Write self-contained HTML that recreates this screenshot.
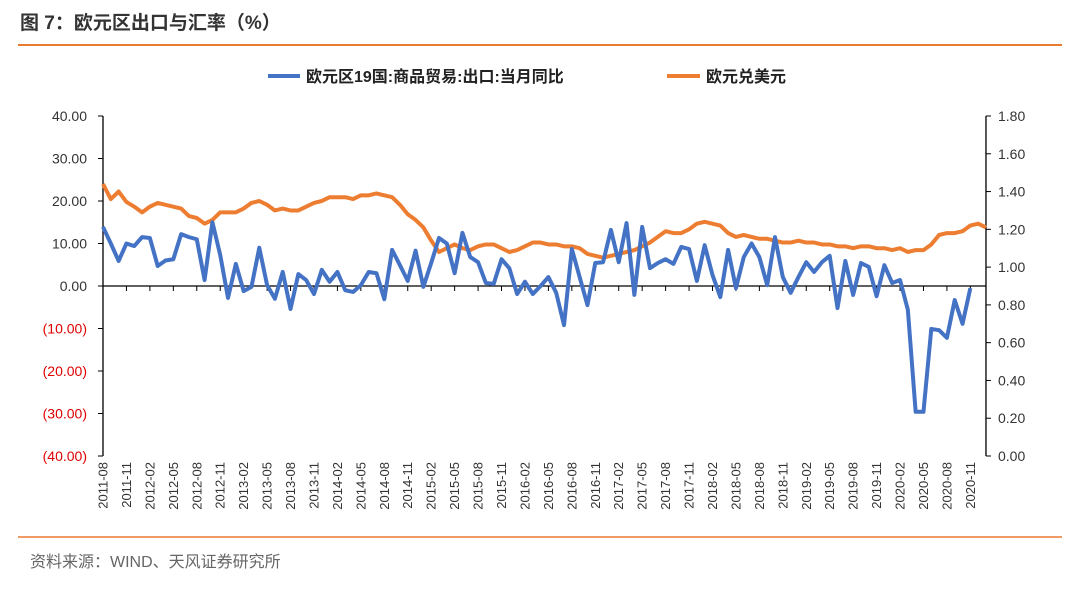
<!DOCTYPE html>
<html><head><meta charset="utf-8">
<style>
body{margin:0;width:1080px;height:587px;background:#fff;overflow:hidden;font-family:"Liberation Sans","Noto Sans CJK SC",sans-serif;}
svg text{font-family:"Liberation Sans","Noto Sans CJK SC",sans-serif;}
</style></head>
<body>
<svg id="chart" width="1080" height="587">
<text x="20" y="29" font-size="19" font-weight="bold" fill="#333">图 7：欧元区出口与汇率（%）</text>
<line x1="18" y1="45" x2="1062" y2="45" stroke="#e97c30" stroke-width="2"/>
<line x1="18" y1="537" x2="1062" y2="537" stroke="#e97c30" stroke-width="1.5"/>
<text x="30" y="567" font-size="16" fill="#666">资料来源：WIND、天风证券研究所</text>
<g>
<line x1="268" y1="76" x2="300" y2="76" stroke="#4472c4" stroke-width="4"/>
<text x="306" y="82" font-size="16" font-weight="bold" fill="#222">欧元区19国:商品贸易:出口:当月同比</text>
<line x1="667" y1="76" x2="700" y2="76" stroke="#ed7d31" stroke-width="4"/>
<text x="706" y="82" font-size="16" font-weight="bold" fill="#222">欧元兑美元</text>
</g>
<g id="axes"></g>
<g id="series"></g>
</svg>
<script>
const monthLabels=["2011-08","2011-11","2012-02","2012-05","2012-08","2012-11","2013-02","2013-05","2013-08","2013-11","2014-02","2014-05","2014-08","2014-11","2015-02","2015-05","2015-08","2015-11","2016-02","2016-05","2016-08","2016-11","2017-02","2017-05","2017-08","2017-11","2018-02","2018-05","2018-08","2018-11","2019-02","2019-05","2019-08","2019-11","2020-02","2020-05","2020-08","2020-11"];
const leftTicks=[40,30,20,10,0,-10,-20,-30,-40];
const rightTicks=[1.8,1.6,1.4,1.2,1.0,0.8,0.6,0.4,0.2,0];
const exportsYoY=[13.9,10,5.9,10,9.4,11.5,11.3,4.7,6,6.3,12.2,11.5,11,1.4,15,7.3,-2.8,5.2,-1.2,-0.2,9,0.2,-3,3.3,-5.4,2.8,1.4,-1.9,3.8,1,3.3,-1,-1.4,0.2,3.3,3,-3.1,8.5,4.9,1.2,8.3,-0.2,5.4,11.3,10,3,12.5,6.8,5.6,0.7,0.5,6.3,4.2,-1.9,1,-1.9,0,2.1,-1.6,-9.2,8.7,2.1,-4.5,5.4,5.6,13.2,5.6,14.8,-2.1,13.9,4.2,5.4,6.3,5.2,9.2,8.7,1.2,9.6,2.6,-2.6,8.5,-0.5,6.8,10,6.8,0.2,11.5,2.1,-1.6,2.1,5.6,3.3,5.6,7.1,-5.2,5.9,-2.1,5.4,4.5,-2.4,4.9,0.7,1.4,-5.6,-29.6,-29.6,-10.1,-10.4,-12.2,-3.3,-8.9,-0.5];
const eurUsd=[1.44,1.36,1.40,1.345,1.32,1.29,1.32,1.34,1.33,1.32,1.31,1.27,1.26,1.23,1.25,1.29,1.29,1.29,1.31,1.34,1.35,1.33,1.30,1.31,1.30,1.30,1.32,1.34,1.35,1.37,1.37,1.37,1.36,1.38,1.38,1.39,1.38,1.37,1.33,1.28,1.25,1.21,1.14,1.08,1.10,1.12,1.10,1.09,1.11,1.12,1.12,1.10,1.08,1.09,1.11,1.13,1.13,1.12,1.12,1.11,1.11,1.10,1.07,1.06,1.05,1.06,1.07,1.08,1.09,1.11,1.13,1.16,1.19,1.18,1.18,1.20,1.23,1.24,1.23,1.22,1.18,1.16,1.17,1.16,1.15,1.15,1.14,1.13,1.13,1.14,1.13,1.13,1.12,1.12,1.11,1.11,1.10,1.11,1.11,1.10,1.10,1.09,1.10,1.08,1.09,1.09,1.12,1.17,1.18,1.18,1.19,1.22,1.23,1.21];

const NS="http://www.w3.org/2000/svg";
const X0=103,DX=7.814,YT=116,YB=456;
const x=i=>X0+i*DX;
const yL=v=>YT+(40-v)/80*(YB-YT);
const yR=v=>YT+(1.8-v)/1.8*(YB-YT);
function mk(tag,attrs,parent,txt){const e=document.createElementNS(NS,tag);for(const k in attrs)e.setAttribute(k,attrs[k]);if(txt!==undefined)e.textContent=txt;parent.appendChild(e);return e;}
const ax=document.getElementById('axes'),se=document.getElementById('series');
let e;
e=mk('line',{x1:X0,y1:YT,x2:X0,y2:YB,stroke:'#000','stroke-width':1.3},ax);


e=mk('line',{x1:x(113),y1:YT,x2:x(113),y2:YB,stroke:'#000','stroke-width':1.3},ax);


e=mk('line',{x1:X0,y1:yL(0),x2:x(113),y2:yL(0),stroke:'#000','stroke-width':1.3},ax);


leftTicks.forEach(v=>{
 const y=yL(v);
 mk('line',{x1:X0-5,y1:y,x2:X0,y2:y,stroke:'#000'},ax);
 const lbl=v<0?'('+Math.abs(v).toFixed(2)+')':v.toFixed(2);
 e=mk('text',{x:87,y:y+5,'font-size':14,'text-anchor':'end',fill:v<0?'#e00000':'#333'},ax,lbl);
 
 
});
rightTicks.forEach(v=>{
 const y=yR(v);
 mk('line',{x1:x(113),y1:y,x2:x(113)+5,y2:y,stroke:'#000'},ax);
 e=mk('text',{x:998,y:y+5,'font-size':14,fill:'#333'},ax,v.toFixed(2));
 
 
});
monthLabels.forEach((m,k)=>{
 const xi=x(k*3);
 mk('line',{x1:xi,y1:yL(0),x2:xi,y2:yL(0)+5,stroke:'#000'},ax);
 e=mk('text',{x:0,y:0,'font-size':13,'text-anchor':'end',fill:'#333',transform:`translate(${xi+4.5},462) rotate(-90)`},ax,m);
 
 
});
e=mk('polyline',{points:eurUsd.map((v,i)=>x(i)+','+yR(v)).join(' '),fill:'none',stroke:'#ed7d31','stroke-width':4,'stroke-linejoin':'round'},se);


e=mk('polyline',{points:exportsYoY.map((v,i)=>x(i)+','+yL(v)).join(' '),fill:'none',stroke:'#4472c4','stroke-width':4,'stroke-linejoin':'round'},se);


</script>
</body></html>
